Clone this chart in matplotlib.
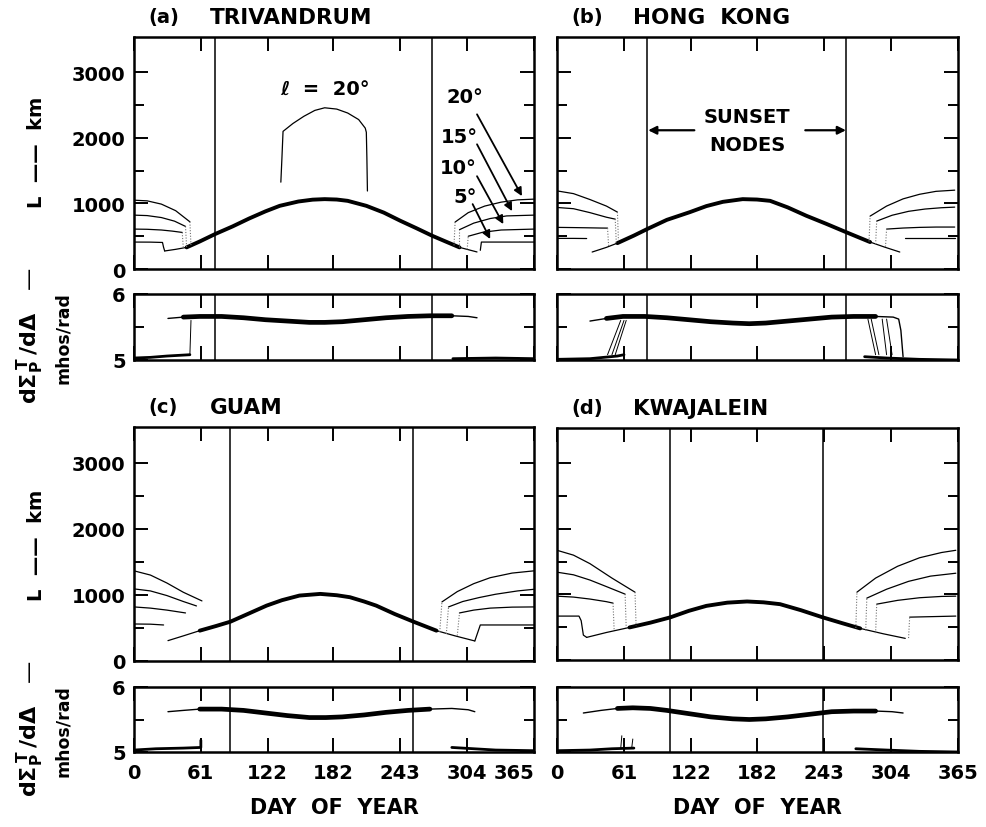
import numpy as np
import matplotlib.pyplot as plt

plt.rcParams['font.family'] = 'DejaVu Sans'
plt.rcParams['font.weight'] = 'bold'
plt.rcParams['mathtext.fontset'] = 'dejavusans'

W, H = 986, 828

day_ticks = [0, 61, 122, 182, 243, 304, 365]
L_major = [0, 1000, 2000, 3000]
L_minor = [500, 1500, 2500]

tags = ['(a)', '(b)', '(c)', '(d)']
stations = ['TRIVANDRUM', 'HONG  KONG', 'GUAM', 'KWAJALEIN']
node_days = [[74, 272], [82, 263], [88, 255], [103, 242]]
thick_range = [[48, 297], [50, 290], [55, 280], [60, 285]]

# L (km) vs day, main curve (thin at the ends, thick in between)
triv_curve = [(28, 275), (38, 300), (48, 330), (60, 420), (74, 533), (90, 650), (105, 770),
              (120, 880), (133, 964), (150, 1030), (163, 1058), (174, 1066), (185, 1060),
              (195, 1040), (212, 964), (228, 860), (243, 736), (258, 620), (272, 508),
              (285, 415), (297, 330), (305, 295), (313, 260)]
hk_curve = [(32, 259), (45, 330), (55, 395), (70, 510), (82, 609), (100, 750), (121, 868),
            (136, 960), (151, 1025), (169, 1066), (182, 1060), (194, 1040), (210, 940),
            (227, 812), (245, 690), (263, 563), (275, 480), (285, 411), (298, 335), (312, 259)]
guam_curve = [(31, 308), (45, 380), (60, 459), (75, 530), (88, 595), (105, 720), (121, 838),
              (135, 920), (151, 990), (170, 1015), (185, 995), (197, 965), (210, 900),
              (221, 838), (238, 710), (255, 595), (276, 459), (293, 380), (311, 303)]
kwaj_curve = [(27, 345), (45, 420), (66, 497), (85, 570), (103, 650), (120, 750), (136, 826),
              (155, 875), (173, 893), (188, 880), (203, 852), (222, 760), (242, 650),
              (260, 560), (276, 482), (297, 400), (317, 330)]

# winter curves for l = 20, 15, 10, 5 deg
triv_winter = [
    [(0, 1050), (12, 1040), (25, 990), (38, 890), (51, 720)],
    [(0, 822), (12, 815), (25, 785), (37, 730), (47, 650)],
    [(0, 609), (12, 606), (25, 595), (35, 578), (44, 558)],
    [(0, 411), (15, 410), (26, 405), (27, 330), (28, 275)],
    [(293, 716), (305, 860), (320, 960), (335, 1020), (350, 1055), (365, 1066)],
    [(297, 600), (310, 700), (325, 770), (340, 810), (365, 822)],
    [(305, 500), (318, 560), (335, 595), (365, 609)],
    [(316, 285), (317, 411), (365, 411)],
]
hk_winter = [
    [(0, 1192), (15, 1150), (30, 1060), (45, 960), (55, 868)],
    [(0, 939), (15, 920), (30, 860), (45, 790), (53, 761)],
    [(0, 635), (15, 632), (30, 628), (40, 625), (46, 624)],
    [(0, 467), (15, 467), (27, 465)],
    [(285, 807), (300, 960), (315, 1070), (330, 1140), (345, 1185), (362, 1203)],
    [(291, 731), (305, 820), (320, 880), (335, 915), (350, 935), (362, 944)],
    [(300, 609), (315, 625), (330, 635), (345, 640), (362, 640)],
    [(317, 467), (362, 467)],
]
guam_winter = [
    [(0, 1364), (15, 1300), (30, 1180), (45, 1040), (62, 909)],
    [(0, 1091), (15, 1060), (30, 990), (45, 900), (57, 833)],
    [(0, 818), (15, 800), (30, 770), (47, 727)],
    [(0, 560), (15, 557), (27, 545)],
    [(281, 894), (295, 1050), (310, 1170), (325, 1260), (345, 1330), (365, 1364)],
    [(287, 818), (300, 900), (315, 960), (330, 1010), (350, 1060), (365, 1085)],
    [(297, 727), (310, 770), (325, 800), (345, 815), (365, 818)],
    [(311, 303), (316, 545), (365, 545)],
]
kwaj_winter = [
    [(0, 1674), (15, 1600), (30, 1470), (50, 1250), (71, 1035)],
    [(0, 1340), (15, 1300), (30, 1220), (45, 1120), (62, 1005)],
    [(0, 974), (15, 960), (30, 930), (45, 890), (51, 868)],
    [(0, 670), (20, 670), (22, 600), (24, 380), (27, 345)],
    [(273, 1035), (290, 1250), (310, 1430), (330, 1560), (350, 1640), (363, 1674)],
    [(282, 944), (300, 1080), (320, 1200), (340, 1280), (363, 1324)],
    [(291, 852), (310, 910), (330, 950), (350, 970), (363, 974)],
    [(321, 654), (363, 670)],
]

# faint dotted drops joining the winter curves to the main curve
triv_drops = [[(51, 720), (52, 355)], [(47, 650), (48, 335)], [(44, 558), (45, 320)],
              [(292, 360), (293, 716)], [(297, 335), (297, 600)], [(304, 300), (305, 500)]]
hk_drops = [[(55, 868), (56, 400)], [(53, 761), (54, 390)], [(46, 624), (47, 350)],
            [(284, 420), (285, 807)], [(290, 380), (291, 731)], [(299, 340), (300, 609)]]
guam_drops = [[(279, 440), (281, 894)], [(285, 410), (287, 818)], [(295, 385), (297, 727)]]
kwaj_drops = [[(71, 1035), (72, 520)], [(62, 1005), (63, 490)], [(51, 868), (52, 460)],
              [(272, 490), (273, 1035)], [(281, 450), (282, 944)], [(290, 410), (291, 852)],
              [(320, 335), (321, 654)]]

# summer branch for l = 20 deg at Trivandrum
triv_summer = [(134, 1325), (135, 1700), (136, 2100), (145, 2220), (155, 2330), (165, 2420),
               (174, 2460), (185, 2440), (195, 2380), (205, 2280), (211, 2150), (212, 2086),
               (212.5, 1700), (213, 1190)]

# dSigma_P^T/dDelta (mhos/rad)
triv_band = [(31, 5.63), (45, 5.65), (60, 5.66), (80, 5.66), (100, 5.64), (120, 5.61),
             (140, 5.59), (160, 5.57), (174, 5.57), (190, 5.58), (210, 5.61), (230, 5.64),
             (250, 5.66), (270, 5.67), (290, 5.67), (305, 5.66), (313, 5.64)]
hk_band = [(30, 5.59), (45, 5.63), (60, 5.66), (80, 5.66), (100, 5.64), (120, 5.61),
           (140, 5.58), (160, 5.56), (175, 5.55), (190, 5.56), (210, 5.59), (230, 5.62),
           (250, 5.65), (270, 5.66), (290, 5.66), (306, 5.65), (311, 5.62), (313, 5.45),
           (315, 5.05)]
guam_band = [(31, 5.62), (45, 5.64), (60, 5.66), (80, 5.66), (100, 5.64), (120, 5.60),
             (140, 5.56), (160, 5.53), (175, 5.53), (190, 5.54), (210, 5.57), (230, 5.61),
             (250, 5.64), (270, 5.66), (290, 5.67), (305, 5.65), (311, 5.62)]
kwaj_band = [(24, 5.60), (40, 5.64), (55, 5.67), (69, 5.68), (85, 5.67), (100, 5.64),
             (120, 5.59), (140, 5.54), (160, 5.51), (175, 5.50), (190, 5.51), (210, 5.54),
             (230, 5.58), (250, 5.62), (270, 5.63), (290, 5.63), (305, 5.62), (315, 5.60)]

triv_low = [[(0, 5.03), (15, 5.04), (30, 5.06), (51, 5.08)], [(291, 5.02), (330, 5.03), (365, 5.02)],
            [(51, 5.08), (52, 5.6)]]
hk_low = [[(0, 5.01), (30, 5.02), (55, 5.06), (61, 5.08)], [(280, 5.05), (300, 5.03), (330, 5.01), (365, 5.0)],
          [(46, 5.08), (58, 5.6)], [(50, 5.08), (61, 5.6)], [(53, 5.08), (63, 5.6)],
          [(283, 5.62), (290, 5.08)], [(286, 5.62), (293, 5.08)], [(296, 5.62), (300, 5.08)],
          [(300, 5.62), (305, 5.08)]]
guam_low = [[(0, 5.03), (20, 5.05), (45, 5.06), (61, 5.07), (61, 5.18)],
            [(290, 5.07), (310, 5.05), (330, 5.03), (365, 5.02)]]
kwaj_low = [[(0, 5.02), (30, 5.03), (50, 5.05), (70, 5.06)], [(272, 5.05), (300, 5.03), (330, 5.01), (365, 5.0)],
            [(58, 5.05), (59, 5.25)], [(68, 5.06), (69, 5.2)]]

panels = [
    (triv_curve, triv_winter, triv_drops, triv_band, triv_low),
    (hk_curve, hk_winter, hk_drops, hk_band, hk_low),
    (guam_curve, guam_winter, guam_drops, guam_band, guam_low),
    (kwaj_curve, kwaj_winter, kwaj_drops, kwaj_band, kwaj_low),
]

# axes boxes in pixels: left, top, right, bottom
main_box = [(134, 38, 534, 270), (557, 38, 958, 270), (134, 428, 534, 662), (557, 429, 958, 661)]
small_box = [(134, 295, 534, 361), (557, 295, 958, 361), (134, 688, 534, 753), (557, 688, 958, 753)]


def add_axes(fig, box):
    l, t, r, b = box
    return fig.add_axes([l / W, 1 - b / H, (r - l) / W, (b - t) / H])


def line(ax, pts, **kw):
    d, v = zip(*pts)
    kw.setdefault('color', 'black')
    ax.plot(d, v, solid_capstyle='round', **kw)


def style(ax):
    for s in ax.spines.values():
        s.set_linewidth(1.8)
    ax.tick_params(which='both', direction='in', top=True, right=True, width=1.4,
                   labelsize=14, pad=6)
    ax.tick_params(which='major', length=10)
    ax.tick_params(which='minor', length=7)
    ax.set_xlim(0, 365)
    ax.set_xticks(day_ticks)


fig = plt.figure(figsize=(W / 100, H / 100), dpi=100)

for i in range(4):
    curve, winter, drops, band, low = panels[i]
    lo, hi = thick_range[i]
    left_col = i in (0, 2)
    bottom_row = i in (2, 3)

    ax = add_axes(fig, main_box[i])
    style(ax)
    ax.set_ylim(0, 3540)
    ax.set_yticks(L_major)
    ax.set_yticks(L_minor, minor=True)
    ax.set_xticklabels([])
    if not left_col:
        ax.set_yticklabels([])
    for nd in node_days[i]:
        ax.axvline(nd, color='black', lw=1.1)
    line(ax, curve, lw=0.9)
    line(ax, [p for p in curve if lo <= p[0] <= hi], lw=2.8)
    for w in winter:
        line(ax, w, lw=0.9)
    for dr in drops:
        line(ax, dr, lw=0.8, color='0.45', linestyle=(0, (1, 1.5)))
    if i == 0:
        line(ax, triv_summer, lw=0.9)
        ax.text(174, 2740, '\u2113  =  20\u00b0', ha='center', va='center', fontsize=14)
        labels = ['20\u00b0', '15\u00b0', '10\u00b0', '5\u00b0']
        lab_pos = [(302, 2634), (297, 2025), (296, 1553), (302, 1112)]
        tails = [(313, 2360), (313, 1903), (313, 1416), (309, 990)]
        heads = [(354, 1112), (345, 883), (337, 685), (325, 457)]
        for lab, p, t, h in zip(labels, lab_pos, tails, heads):
            ax.text(p[0], p[1], lab, ha='center', va='center', fontsize=14)
            ax.annotate('', xy=h, xytext=t,
                        arrowprops=dict(arrowstyle='-|>', color='black', lw=1.3,
                                        mutation_scale=12, shrinkA=0, shrinkB=0))
    if i == 1:
        ax.text(173, 2330, 'SUNSET', ha='center', va='center', fontsize=14)
        ax.text(173, 1903, 'NODES', ha='center', va='center', fontsize=14)
        for t, h in [((125, 2117), (83, 2117)), ((226, 2117), (263, 2117))]:
            ax.annotate('', xy=h, xytext=t,
                        arrowprops=dict(arrowstyle='-|>', color='black', lw=1.6,
                                        mutation_scale=12, shrinkA=0, shrinkB=0))

    l, t, r, b = main_box[i]
    fig.text((l + 14) / W, 1 - (t - 20) / H, tags[i], fontsize=14, va='center', ha='left')
    fig.text((l + 76) / W, 1 - (t - 20) / H, stations[i], fontsize=15.5, va='center', ha='left')

    sx = add_axes(fig, small_box[i])
    style(sx)
    sx.set_ylim(5, 6)
    sx.set_yticks([5, 6])
    sx.set_yticks([5.5], minor=True)
    if not left_col:
        sx.set_yticklabels([])
    if bottom_row:
        sx.tick_params(axis='x', pad=8)
        if left_col:
            sx.get_xticklabels()[-1].set_horizontalalignment('right')
    else:
        sx.set_xticklabels([])
    for nd in node_days[i]:
        sx.axvline(nd, color='black', lw=1.1)
    line(sx, band, lw=1.0)
    line(sx, [p for p in band if lo - 5 <= p[0] <= hi + 5], lw=3.4)
    for k, seg in enumerate(low):
        line(sx, seg, lw=2.0 if k < 2 else 0.7)

    if bottom_row:
        cx = (l + r) / 2
        fig.text(cx / W, 1 - 808 / H, 'DAY  OF  YEAR', ha='center', va='center', fontsize=15)

# y-axis labels
for off in (0, 393):
    fig.text(37 / W, 1 - (152 + off) / H, 'L  \u2014\u2014  km', rotation=90,
             ha='center', va='center', fontsize=14)
    fig.text(30 / W, 1 - (336 + off) / H,
             '$\\mathbf{d\\Sigma_P^{\\,T}\\,/d\\Delta}$   \u2014',
             rotation=90, ha='center', va='center', fontsize=16)
    fig.text(63 / W, 1 - (338 + off) / H, 'mhos/rad', rotation=90,
             ha='center', va='center', fontsize=12.5)

fig.savefig('out.png', dpi=100)
